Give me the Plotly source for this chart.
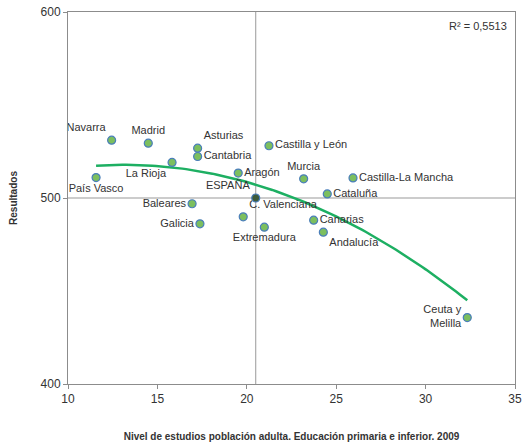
import numpy as np
import plotly.graph_objects as go

# Comunidades autónomas: nivel de estudios (x) vs resultados (y)
regiones = ["Navarra", "Madrid", "Asturias", "Cantabria", "La Rioja", "País Vasco",
            "Baleares", "Galicia", "Aragón", "Castilla y León", "Murcia",
            "Castilla-La Mancha", "Cataluña", "C. Valenciana", "Extremadura",
            "Canarias", "Andalucía", "Ceuta y<br>Melilla"]
estudios = [12.44, 14.49, 17.25, 17.25, 15.82, 11.57,
            16.94, 17.38, 19.52, 21.24, 23.18,
            25.94, 24.50, 19.80, 20.98,
            23.74, 24.28, 32.33]
resultados = [531.1, 529.5, 526.8, 522.3, 519.1, 511.0,
              496.9, 486.1, 513.4, 528.1, 510.3,
              510.8, 502.2, 489.9, 484.3,
              488.1, 481.6, 435.7]
espana_x = 20.5
espana_y = 500

posiciones = ["top left", "top center", "top right", "middle right", "bottom left",
              "bottom center", "middle left", "middle left", "middle right",
              "middle right", "top center", "middle right", "middle right",
              "top right", "bottom center", "middle right", "bottom right",
              "middle left"]

TXT = "#333333"
VERDE = "#7CBF5E"
AZUL = "#4A7EBB"
LINEA = "#1DAF62"

# tendencia polinómica de grado 2
coef = np.polyfit(estudios, resultados, 2)
xs = np.linspace(min(estudios), max(estudios), 100)
ys = np.polyval(coef, xs)

fig = go.Figure()
fig.add_trace(go.Scatter(x=xs, y=ys, mode="lines",
                         line=dict(color=LINEA, width=2.5), hoverinfo="skip"))
fig.add_trace(go.Scatter(
    x=estudios, y=resultados, mode="markers+text", text=regiones,
    textposition=posiciones, textfont=dict(size=11, color=TXT), cliponaxis=False,
    marker=dict(size=8, color=VERDE, line=dict(color=AZUL, width=1.2)),
))
fig.add_trace(go.Scatter(
    x=[espana_x], y=[espana_y], mode="markers+text", text=["ESPAÑA"],
    textposition="top left", textfont=dict(size=11, color=TXT), cliponaxis=False,
    marker=dict(size=8, color="#3E5B3A", line=dict(color=AZUL, width=1.2)),
))

fig.add_shape(type="line", x0=espana_x, x1=espana_x, y0=400, y1=600,
              line=dict(color="#999999", width=1), layer="below")
fig.add_shape(type="line", x0=10, x1=35, y0=espana_y, y1=espana_y,
              line=dict(color="#999999", width=1), layer="below")

fig.add_annotation(x=1, y=1, xref="paper", yref="paper", xanchor="right", yanchor="top",
                   xshift=-6, yshift=-6, text="R² = 0,5513", showarrow=False,
                   font=dict(size=11, color=TXT))

ejes = dict(showgrid=False, zeroline=False, showline=True, linecolor="#8C8C8C",
            linewidth=1, mirror=True, ticks="outside", ticklen=4, tickcolor="#8C8C8C",
            tickfont=dict(size=12, color=TXT), automargin=False,
            ticklabeloverflow="allow")

fig.update_layout(
    width=523, height=448,
    margin=dict(l=68, r=8, t=12, b=64),
    plot_bgcolor="white", paper_bgcolor="white",
    font=dict(family="Liberation Sans, Arial, sans-serif", color=TXT),
    showlegend=False,
    xaxis=dict(range=[10, 35], dtick=5,
               title=dict(text="<b>Nivel de estudios población adulta. Educación primaria e inferior. 2009</b>",
                          font=dict(size=10, color=TXT), standoff=27), **ejes),
    yaxis=dict(range=[400, 600], dtick=100,
               title=dict(text="<b>Resultados</b>", font=dict(size=10, color=TXT),
                          standoff=21), **ejes),
)

# quitar el margen por defecto del body de la página
fig.write_html("out.html", config={"displayModeBar": False},
               post_script="document.body.style.margin='0';")
